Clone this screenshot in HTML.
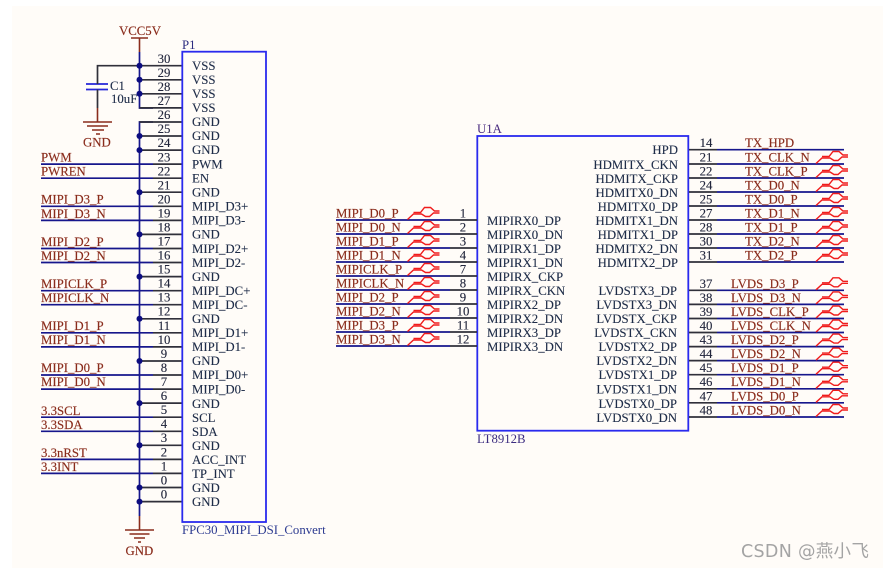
<!DOCTYPE html>
<html><head><meta charset="utf-8"><style>
html,body{margin:0;padding:0;background:#fff}
svg{display:block}
text{font-family:"Liberation Serif",serif;font-size:12.8px}
.n text{fill:#8a2c1c;stroke:#8a2c1c;stroke-width:.15}
.p text{fill:#1e2c48;stroke:#1e2c48;stroke-width:.12}
.m text{fill:#22263c;stroke:#22263c;stroke-width:.12;text-anchor:middle}
.e text{text-anchor:end}
</style></head><body>
<svg xmlns="http://www.w3.org/2000/svg" width="888" height="568" viewBox="0 0 888 568">
<defs>
<g id="d" fill="none" stroke="#f01c1c" stroke-width="1.4">
<path d="M6 -7.5H13L17 -12.5H23L27 -9H32"/>
<path d="M0 -0.5L6 -6H14L18 -3.5H22L26 -7H32"/>
</g>
</defs>
<rect width="888" height="568" fill="#ffffff"/>
<rect x="12" y="6" width="871" height="562" fill="#fffcf8"/>

<!-- P1 navy wires -->
<g stroke="#16168c" stroke-width="1.7" fill="none">
<path d="M139.5 52V108H153"/>
<path d="M139.5 516V122H153"/>
<path d="M41 164.1H153M41 178.2H153M41 206.3H153M41 220.4H153M41 248.5H153M41 262.5H153M41 290.7H153M41 304.7H153M41 332.8H153M41 346.9H153M41 375H153M41 389.1H153M41 417.2H153M41 431.3H153M41 459.4H153M41 473.4H153"/>
<path d="M86 84H108M86 89.5H108" stroke="#2626d8" stroke-width="1.8"/>
</g>
<g stroke="#30303a" stroke-width="1.7" fill="none">
<path d="M97.5 84V65.7H139.5M97.5 89.5V108"/>
<path d="M139.5 65.7H182M139.5 79.8H182M139.5 93.8H182M139.5 107.9H182M139.5 122H182M139.5 136H182M139.5 150.1H182M153 164.1H182M153 178.2H182M139.5 192.2H182M153 206.3H182M153 220.4H182M139.5 234.4H182M153 248.5H182M153 262.5H182M139.5 276.6H182M153 290.7H182M153 304.7H182M139.5 318.8H182M153 332.8H182M153 346.9H182M139.5 361H182M153 375H182M153 389.1H182M139.5 403.1H182M153 417.2H182M153 431.3H182M139.5 445.3H182M153 459.4H182M153 473.4H182M139.5 487.5H182M139.5 501.6H182"/>
</g>
<!-- brown power -->
<g stroke="#8a2c1c" stroke-width="1.6" fill="none">
<path d="M131 38H148M139.5 38V52"/>
<path d="M97.5 108V122M83 122H112M87 126H108M92 130H104M96 134H100"/>
<path d="M139.5 516V530M125 530H154M129.5 534H149.5M134 538H145M138 542H141"/>
</g>
<!-- junctions -->
<g fill="#0c0c80">
<circle cx="139.5" cy="65.7" r="3"/><circle cx="139.5" cy="79.8" r="3"/><circle cx="139.5" cy="93.8" r="3"/>
<circle cx="139.5" cy="136" r="3"/><circle cx="139.5" cy="150.1" r="3"/><circle cx="139.5" cy="192.2" r="3"/>
<circle cx="139.5" cy="234.4" r="3"/><circle cx="139.5" cy="276.6" r="3"/><circle cx="139.5" cy="318.8" r="3"/>
<circle cx="139.5" cy="361" r="3"/><circle cx="139.5" cy="403.1" r="3"/><circle cx="139.5" cy="445.3" r="3"/>
<circle cx="139.5" cy="487.5" r="3"/><circle cx="139.5" cy="501.6" r="3"/>
</g>
<!-- boxes -->
<rect x="182.3" y="51.7" width="83.7" height="470.3" fill="none" stroke="#2a2aee" stroke-width="1.8"/>
<rect x="477.3" y="136" width="211" height="294.7" fill="none" stroke="#2a2aee" stroke-width="1.8"/>

<!-- U1A wires -->
<g stroke="#16168c" stroke-width="1.7" fill="none">
<path d="M336 220H450M336 234H450M336 248H450M336 262H450M336 276H450M336 290H450M336 304H450M336 318H450M336 332H450M336 346H450"/>
<path d="M717 149.7H844M717 164H844M717 178H844M717 192H844M717 206H844M717 220H844M717 234H844M717 248H844M717 262H844"/>
<path d="M717 290.3H844M717 304.4H844M717 318.5H844M717 332.5H844M717 346.6H844M717 360.6H844M717 374.7H844M717 388.8H844M717 402.8H844M717 417H844"/>
</g>
<g stroke="#30303a" stroke-width="1.7" fill="none">
<path d="M450 220H477M450 234H477M450 248H477M450 262H477M450 276H477M450 290H477M450 304H477M450 318H477M450 332H477M450 346H477"/>
<path d="M689 149.7H717M689 164H717M689 178H717M689 192H717M689 206H717M689 220H717M689 234H717M689 248H717M689 262H717"/>
<path d="M689 290.3H717M689 304.4H717M689 318.5H717M689 332.5H717M689 346.6H717M689 360.6H717M689 374.7H717M689 388.8H717M689 402.8H717M689 417H717"/>
</g>
<!-- diff pair markers -->
<use href="#d" x="407.5" y="220"/><use href="#d" x="407.5" y="234"/><use href="#d" x="407.5" y="248"/><use href="#d" x="407.5" y="262"/><use href="#d" x="407.5" y="276"/><use href="#d" x="407.5" y="290"/><use href="#d" x="407.5" y="304"/><use href="#d" x="407.5" y="318"/><use href="#d" x="407.5" y="332"/><use href="#d" x="407.5" y="346"/>
<use href="#d" x="816" y="164"/><use href="#d" x="816" y="178"/><use href="#d" x="816" y="192"/><use href="#d" x="816" y="206"/><use href="#d" x="816" y="220"/><use href="#d" x="816" y="234"/><use href="#d" x="816" y="248"/><use href="#d" x="816" y="262"/>
<use href="#d" x="816" y="290.3"/><use href="#d" x="816" y="304.4"/><use href="#d" x="816" y="318.5"/><use href="#d" x="816" y="332.5"/><use href="#d" x="816" y="346.6"/><use href="#d" x="816" y="360.6"/><use href="#d" x="816" y="374.7"/><use href="#d" x="816" y="388.8"/><use href="#d" x="816" y="402.8"/><use href="#d" x="816" y="417"/>

<!-- P1 pin labels -->
<g class="p">
<text x="192" y="70">VSS</text><text x="192" y="84">VSS</text><text x="192" y="98">VSS</text><text x="192" y="112">VSS</text>
<text x="192" y="126">GND</text><text x="192" y="140">GND</text><text x="192" y="154">GND</text>
<text x="192" y="168.5">PWM</text><text x="192" y="182.5">EN</text><text x="192" y="196.5">GND</text>
<text x="192" y="210.5">MIPI_D3+</text><text x="192" y="224.5">MIPI_D3-</text><text x="192" y="238.5">GND</text>
<text x="192" y="253">MIPI_D2+</text><text x="192" y="267">MIPI_D2-</text><text x="192" y="281">GND</text>
<text x="192" y="295">MIPI_DC+</text><text x="192" y="309">MIPI_DC-</text><text x="192" y="323">GND</text>
<text x="192" y="337">MIPI_D1+</text><text x="192" y="351">MIPI_D1-</text><text x="192" y="365">GND</text>
<text x="192" y="379">MIPI_D0+</text><text x="192" y="393.5">MIPI_D0-</text><text x="192" y="408">GND</text>
<text x="192" y="422">SCL</text><text x="192" y="436">SDA</text><text x="192" y="450">GND</text>
<text x="192" y="464">ACC_INT</text><text x="192" y="478">TP_INT</text><text x="192" y="492">GND</text><text x="192" y="506">GND</text>
<text x="182" y="49" style="fill:#2c2c80;stroke:none">P1</text>
<text x="182" y="534" style="fill:#2c3a90;stroke:none">FPC30_MIPI_DSI_Convert</text>
<text x="477" y="133" style="fill:#4a2c80;stroke:none">U1A</text>
<text x="477" y="443" style="fill:#3c2c80;stroke:none">LT8912B</text>
<text x="110" y="90">C1</text><text x="111" y="103">10uF</text>
<text x="487" y="225">MIPIRX0_DP</text><text x="487" y="239">MIPIRX0_DN</text><text x="487" y="253">MIPIRX1_DP</text><text x="487" y="267">MIPIRX1_DN</text><text x="487" y="281">MIPIRX_CKP</text><text x="487" y="295">MIPIRX_CKN</text><text x="487" y="309">MIPIRX2_DP</text><text x="487" y="323">MIPIRX2_DN</text><text x="487" y="337">MIPIRX3_DP</text><text x="487" y="351">MIPIRX3_DN</text>
</g>
<g class="p e">
<text x="678" y="154">HPD</text><text x="678" y="169">HDMITX_CKN</text><text x="678" y="183">HDMITX_CKP</text><text x="678" y="197">HDMITX0_DN</text><text x="678" y="211">HDMITX0_DP</text><text x="678" y="225">HDMITX1_DN</text><text x="678" y="239">HDMITX1_DP</text><text x="678" y="253">HDMITX2_DN</text><text x="678" y="267">HDMITX2_DP</text>
<text x="677" y="295">LVDSTX3_DP</text><text x="677" y="309">LVDSTX3_DN</text><text x="677" y="323">LVDSTX_CKP</text><text x="677" y="337">LVDSTX_CKN</text><text x="677" y="351">LVDSTX2_DP</text><text x="677" y="365">LVDSTX2_DN</text><text x="677" y="379">LVDSTX1_DP</text><text x="677" y="393.5">LVDSTX1_DN</text><text x="677" y="408">LVDSTX0_DP</text><text x="677" y="422">LVDSTX0_DN</text>
</g>

<!-- pin numbers -->
<g class="m">
<text x="164" y="63">30</text><text x="164" y="77">29</text><text x="164" y="91">28</text><text x="164" y="105">27</text><text x="164" y="119">26</text><text x="164" y="133">25</text><text x="164" y="147">24</text><text x="164" y="161.5">23</text><text x="164" y="175.5">22</text><text x="164" y="189.5">21</text><text x="164" y="203.5">20</text><text x="164" y="217.5">19</text><text x="164" y="231.5">18</text><text x="164" y="245.5">17</text><text x="164" y="259.5">16</text><text x="164" y="273.5">15</text><text x="164" y="287.5">14</text><text x="164" y="301.5">13</text><text x="164" y="315.5">12</text><text x="164" y="330">11</text><text x="164" y="344">10</text><text x="164" y="358">9</text><text x="164" y="372">8</text><text x="164" y="386">7</text><text x="164" y="400">6</text><text x="164" y="414">5</text><text x="164" y="428">4</text><text x="164" y="442">3</text><text x="164" y="456.5">2</text><text x="164" y="470.5">1</text><text x="164" y="484.5">0</text><text x="164" y="498.5">0</text>
<text x="463" y="217.5">1</text><text x="463" y="231.5">2</text><text x="463" y="245.5">3</text><text x="463" y="259.5">4</text><text x="463" y="273.5">7</text><text x="463" y="287.5">8</text><text x="463" y="301.5">9</text><text x="463" y="315.5">10</text><text x="463" y="329.5">11</text><text x="463" y="343.5">12</text>
<text x="706" y="147">14</text><text x="706" y="161.5">21</text><text x="706" y="175.5">22</text><text x="706" y="189.5">24</text><text x="706" y="203.5">25</text><text x="706" y="217.5">27</text><text x="706" y="231.5">28</text><text x="706" y="245.5">30</text><text x="706" y="259.5">31</text>
<text x="706" y="288">37</text><text x="706" y="302">38</text><text x="706" y="316">39</text><text x="706" y="330">40</text><text x="706" y="344">43</text><text x="706" y="358">44</text><text x="706" y="372">45</text><text x="706" y="386">46</text><text x="706" y="400.5">47</text><text x="706" y="414.5">48</text>
</g>

<!-- net labels -->
<g class="n">
<text x="41" y="161.5">PWM</text><text x="41" y="175.5">PWREN</text>
<text x="41" y="203.5">MIPI_D3_P</text><text x="41" y="218">MIPI_D3_N</text>
<text x="41" y="246">MIPI_D2_P</text><text x="41" y="260">MIPI_D2_N</text>
<text x="41" y="288">MIPICLK_P</text><text x="41" y="302">MIPICLK_N</text>
<text x="41" y="330">MIPI_D1_P</text><text x="41" y="344">MIPI_D1_N</text>
<text x="41" y="372">MIPI_D0_P</text><text x="41" y="386">MIPI_D0_N</text>
<text x="41" y="415">3.3SCL</text><text x="41" y="429">3.3SDA</text><text x="41" y="457">3.3nRST</text><text x="41" y="471">3.3INT</text>
<text x="119" y="35">VCC5V</text><text x="83" y="146.5">GND</text><text x="125.5" y="555">GND</text>
<text x="336" y="217.5">MIPI_D0_P</text><text x="336" y="231.5">MIPI_D0_N</text><text x="336" y="245.5">MIPI_D1_P</text><text x="336" y="259.5">MIPI_D1_N</text><text x="336" y="273.5">MIPICLK_P</text><text x="336" y="287.5">MIPICLK_N</text><text x="336" y="301.5">MIPI_D2_P</text><text x="336" y="315.5">MIPI_D2_N</text><text x="336" y="329.5">MIPI_D3_P</text><text x="336" y="343.5">MIPI_D3_N</text>
<text x="745" y="147">TX_HPD</text><text x="745" y="161.5">TX_CLK_N</text><text x="745" y="175.5">TX_CLK_P</text><text x="745" y="189.5">TX_D0_N</text><text x="745" y="203.5">TX_D0_P</text><text x="745" y="217.5">TX_D1_N</text><text x="745" y="231.5">TX_D1_P</text><text x="745" y="245.5">TX_D2_N</text><text x="745" y="259.5">TX_D2_P</text>
<text x="731" y="288">LVDS_D3_P</text><text x="731" y="302">LVDS_D3_N</text><text x="731" y="316">LVDS_CLK_P</text><text x="731" y="330">LVDS_CLK_N</text><text x="731" y="344">LVDS_D2_P</text><text x="731" y="358">LVDS_D2_N</text><text x="731" y="372">LVDS_D1_P</text><text x="731" y="386">LVDS_D1_N</text><text x="731" y="400.5">LVDS_D0_P</text><text x="731" y="414.5">LVDS_D0_N</text>
</g>
<text x="741" y="557" style="font-family:'DejaVu Sans','Noto Sans CJK SC',sans-serif;font-size:17.5px;letter-spacing:.3px;fill:#a4a4a4">CSDN @燕小飞</text>
</svg>
</body></html>
